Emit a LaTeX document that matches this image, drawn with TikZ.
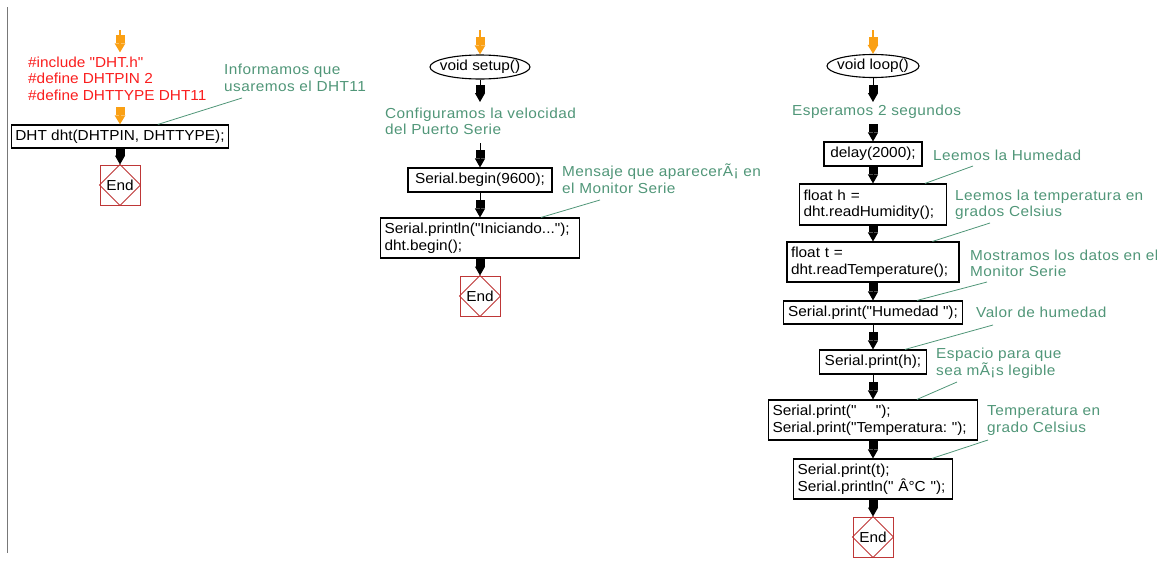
\documentclass[tikz,border=0pt]{standalone}
\usepackage{fontspec}
\setmainfont{Liberation Sans}[FakeStretch=1.06, Ligatures=TeXOff]
\newfontfamily\notefont{Liberation Sans}[FakeStretch=1.06, LetterSpace=3, Ligatures=TeXOff]
\usetikzlibrary{arrows.meta,shapes.geometric}
\definecolor{notegreen}{RGB}{80,150,120}
\definecolor{defred}{RGB}{250,30,30}
\definecolor{startorange}{RGB}{250,160,20}
\definecolor{endred}{RGB}{190,55,55}
\definecolor{framegray}{RGB}{120,120,120}
\frenchspacing
\tikzset{
  txt/.style={font=\fontsize{14.5}{16.5}\selectfont, inner sep=0pt},
  stepbox/.style={txt, draw=black, line width=1.1pt, inner sep=4pt},
  term/.style={txt, draw=black, line width=1.1pt, ellipse, inner xsep=-14pt, inner ysep=-6pt},
  endbox/.style={txt, draw=endred, line width=1pt, minimum size=40pt, inner sep=0pt},
  note/.style={txt, font=\fontsize{14.5}{16.5}\notefont, text=notegreen, align=left},
  notelink/.style={draw=notegreen, line width=0.8pt},
  flow/.style={draw=black, line width=1pt,
    -{Rectangle[width=9pt,length=8pt]Triangle[width=10pt,length=9pt]}},
  entry/.style={flow, draw=startorange, line width=2.5pt}
}
\begin{document}
\begin{tikzpicture}[x=1pt,y=-1pt]
\useasboundingbox (0,0) rectangle (1157,560);
% page margin rule
\draw[framegray, line width=1.5pt] (7.5,7) -- (7.5,553);

% ---- globals ----
\coordinate (s1) at (120,30);
\node[txt, text=defred, align=left, anchor=west] (defs) at (28,78.5)
  {\#include "DHT.h"\\\#define DHTPIN 2\\\#define DHTTYPE DHT11};
\coordinate (s1b) at (120,107);
\node[stepbox, minimum width=214pt, minimum height=23pt] (b1) at (120,136.5) {DHT dht(DHTPIN, DHTTYPE);};
\node[endbox] (e1) at (120,185) {End};
\draw[endred, line width=1pt] (e1.north) -- (e1.east) -- (e1.south) -- (e1.west) -- cycle;
\draw[entry, shorten >=4pt] (s1) -- (s1 |- defs.north);
\draw[entry] (s1b) -- (b1);
\draw[flow] (b1) -- (e1);
\node[note, anchor=west] (n1) at (224,78) {Informamos que\\usaremos el DHT11};
\coordinate (n1t) at (242,98);
\draw[notelink] (n1t) -- ([xshift=147pt]b1.north west);

% ---- setup() ----
\coordinate (s2) at (480,30);
\node[term, minimum width=100pt, minimum height=24pt] (setup) at (480,67) {void setup()};
\draw[entry] (s2) -- (setup);
\coordinate (n2in) at (480,102);
\node[note, anchor=west] (n2) at (385,121.5) {Configuramos la velocidad\\del Puerto Serie};
\coordinate (n2out) at (480,143);
\node[stepbox, minimum width=144pt, minimum height=24pt] (b2) at (480,180) {Serial.begin(9600);};
\node[stepbox, text width=191pt, minimum height=40pt, align=left] (b3) at (480,238)
  {Serial.println("Iniciando...");\\dht.begin();};
\node[endbox] (e2) at (480,296) {End};
\draw[endred, line width=1pt] (e2.north) -- (e2.east) -- (e2.south) -- (e2.west) -- cycle;
\draw[flow] (setup) -- (n2in);
\draw[flow] (n2out) -- (b2);
\draw[flow] (b2) -- (b3);
\draw[flow] (b3) -- (e2);
\node[note, anchor=west] (n3) at (562,178.5) {Mensaje que aparecerÃ¡ en\\el Monitor Serie};
\coordinate (n3t) at (600,200);
\draw[notelink] (n3t) -- ([xshift=161pt]b3.north west);

% ---- loop() ----
\coordinate (s3) at (873,30);
\node[term, minimum width=92pt, minimum height=23pt] (loop) at (873,66) {void loop()};
\draw[entry] (s3) -- (loop);
\coordinate (n4in) at (873,102);
\node[note, anchor=west] (n4) at (792,112) {Esperamos 2 segundos};
\coordinate (n4out) at (873,125);
\node[stepbox, minimum width=98pt, minimum height=24pt] (b4) at (873,154) {delay(2000);};
\node[stepbox, text width=139pt, minimum height=41pt, align=left] (b5) at (873,204.5)
  {float h =\\dht.readHumidity();};
\node[stepbox, text width=164pt, minimum height=40pt, align=left] (b6) at (873,262)
  {float t =\\dht.readTemperature();};
\node[stepbox, minimum width=179pt, minimum height=23pt] (b7) at (873,312.5) {Serial.print("Humedad ");};
\node[stepbox, minimum width=107pt, minimum height=24pt] (b8) at (873,362) {Serial.print(h);};
\node[stepbox, text width=201pt, minimum height=40pt, align=left] (b9) at (873,420)
  {Serial.print("\ \ \ \ ");\\Serial.print("Temperatura: ");};
\node[stepbox, text width=151pt, minimum height=40pt, align=left] (b10) at (873,479)
  {Serial.print(t);\\Serial.println(" Â°C ");};
\node[endbox] (e3) at (873,537) {End};
\draw[endred, line width=1pt] (e3.north) -- (e3.east) -- (e3.south) -- (e3.west) -- cycle;

\draw[flow] (loop) -- (n4in);
\draw[flow] (n4out) -- (b4);
\draw[flow] (b4) -- (b5);
\draw[flow] (b5) -- (b6);
\draw[flow] (b6) -- (b7);
\draw[flow] (b7) -- (b8);
\draw[flow] (b8) -- (b9);
\draw[flow] (b9) -- (b10);
\draw[flow] (b10) -- (e3);

\node[note, anchor=west] (n5) at (933,155) {Leemos la Humedad};
\coordinate (n5t) at (973,166);
\draw[notelink] (n5t) -- ([xshift=126pt]b5.north west);
\node[note, anchor=west] (n6) at (955,204.5) {Leemos la temperatura en\\grados Celsius};
\coordinate (n6t) at (990,223);
\draw[notelink] (n6t) -- ([xshift=146pt]b6.north west);
\node[note, anchor=west] (n7) at (970,263.5) {Mostramos los datos en el\\Monitor Serie};
\coordinate (n7t) at (987,282);
\draw[notelink] (n7t) -- ([xshift=134pt]b7.north west);
\node[note, anchor=west] (n8) at (976,312) {Valor de humedad};
\coordinate (n8t) at (993,325);
\draw[notelink] (n8t) -- ([xshift=86pt]b8.north west);
\node[note, anchor=west] (n9) at (936,363) {Espacio para que\\sea mÃ¡s legible};
\coordinate (n9t) at (957,382);
\draw[notelink] (n9t) -- ([xshift=149pt]b9.north west);
\node[note, anchor=west] (n10) at (987,420.5) {Temperatura en\\grado Celsius};
\coordinate (n10t) at (988,440);
\draw[notelink] (n10t) -- ([xshift=139pt]b10.north west);
\end{tikzpicture}
\end{document}
